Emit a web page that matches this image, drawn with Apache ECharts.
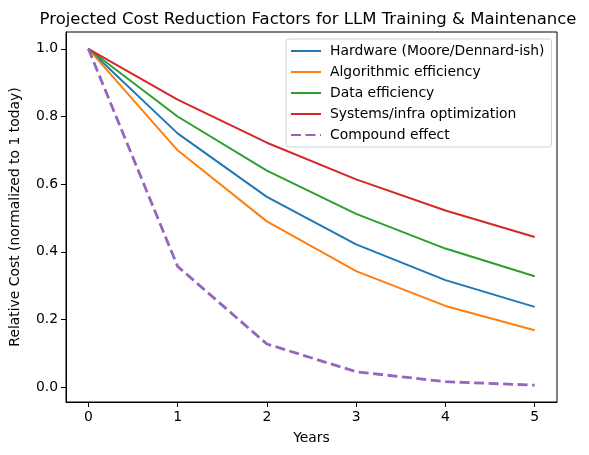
<!DOCTYPE html>
<html>
<head>
<meta charset="utf-8">
<script src="https://cdn.jsdelivr.net/npm/echarts@6/dist/echarts.min.js"></script>
<style>
  html, body { margin: 0; padding: 0; background: #fff; }
  #chart { width: 589px; height: 455px; }
</style>
</head>
<body>
<div id="chart"></div>
<script>
// values
var years = [0, 1, 2, 3, 4, 5];
var hardware = [1.0, 0.75, 0.5625, 0.4219, 0.3164, 0.2373];
var algorithmic = [1.0, 0.70, 0.49, 0.343, 0.2401, 0.1681];
var dataEff = [1.0, 0.80, 0.64, 0.512, 0.4096, 0.3277];
var systems = [1.0, 0.85, 0.7225, 0.6141, 0.522, 0.4437];
var compound = [1.0, 0.357, 0.1275, 0.0455, 0.0162, 0.0058];
var yTicks = [0, 0.2, 0.4, 0.6, 0.8, 1.0];

var font = 'DejaVu Sans';

function pairs(vals) {
	var out = [];
	for (var i = 0; i < years.length; i++) {
		out.push([years[i], vals[i]]);
	}
	return out;
}

function lineSeries(name, vals, color, width, dash) {
	return {
		name: name,
		type: 'line',
		data: pairs(vals),
		symbol: 'none',
		showSymbol: false,
		silent: true,
		animation: false,
		itemStyle: { color: color },
		lineStyle: { color: color, width: width, type: dash || 'solid' }
	};
}

var myChart = echarts.init(document.getElementById('chart'));
var option = {
	backgroundColor: '#fff',
	animation: false,
	title: {
		text: 'Projected Cost Reduction Factors for LLM Training & Maintenance',
		left: 303,
		textAlign: 'center',
		top: 6,
		textStyle: { fontFamily: font, fontSize: 16.5, fontWeight: 'normal', color: '#000' }
	},
	grid: {
		left: 61,
		right: 32,
		top: 32,
		bottom: 53,
		show: true,
		borderColor: '#000',
		borderWidth: 1
	},
	legend: {
		orient: 'vertical',
		left: 286,
		top: 39,
		itemWidth: 30,
		itemHeight: 14,
		itemGap: 7,
		padding: [5, 7, 5, 4],
		borderColor: '#d0d0d0',
		borderWidth: 1,
		borderRadius: 3,
		backgroundColor: 'rgba(255,255,255,0.8)',
		itemStyle: { opacity: 0 },
		textStyle: { fontFamily: font, fontSize: 13.9, color: '#000', padding: [0, 0, 0, 4] },
		data: ['Hardware (Moore/Dennard-ish)', 'Algorithmic efficiency', 'Data efficiency', 'Systems/infra optimization', 'Compound effect']
	},
	xAxis: {
		type: 'value',
		min: -0.25,
		max: 5.25,
		name: 'Years',
		nameLocation: 'middle',
		nameGap: 29,
		nameTextStyle: { fontFamily: font, fontSize: 13.9, color: '#000' },
		axisLine: { show: true, onZero: false, lineStyle: { color: '#000' } },
		axisTick: { show: true, length: 5, inside: false, customValues: years, lineStyle: { color: '#000' } },
		axisLabel: { customValues: years, fontFamily: font, fontSize: 13.9, color: '#000', margin: 8 },
		splitLine: { show: false }
	},
	yAxis: {
		type: 'value',
		min: -0.0439,
		max: 1.0497,
		name: 'Relative Cost (normalized to 1 today)',
		nameLocation: 'middle',
		nameGap: 44,
		nameTextStyle: { fontFamily: font, fontSize: 13.9, color: '#000' },
		axisLine: { show: true, onZero: false, lineStyle: { color: '#000' } },
		axisTick: { show: true, length: 5, inside: false, customValues: yTicks, lineStyle: { color: '#000' } },
		axisLabel: {
			customValues: yTicks,
			fontFamily: font,
			fontSize: 13.9,
			color: '#000',
			margin: 8,
			formatter: function(v) { return v.toFixed(1); }
		},
		splitLine: { show: false }
	},
	series: [
		lineSeries('Hardware (Moore/Dennard-ish)', hardware, '#1f77b4', 2),
		lineSeries('Algorithmic efficiency', algorithmic, '#ff7f0e', 2),
		lineSeries('Data efficiency', dataEff, '#2ca02c', 2),
		lineSeries('Systems/infra optimization', systems, '#d62728', 2),
		lineSeries('Compound effect', compound, '#9467bd', 2.8, [10, 4.5])
	]
};
myChart.setOption(option);
</script>
</body>
</html>
